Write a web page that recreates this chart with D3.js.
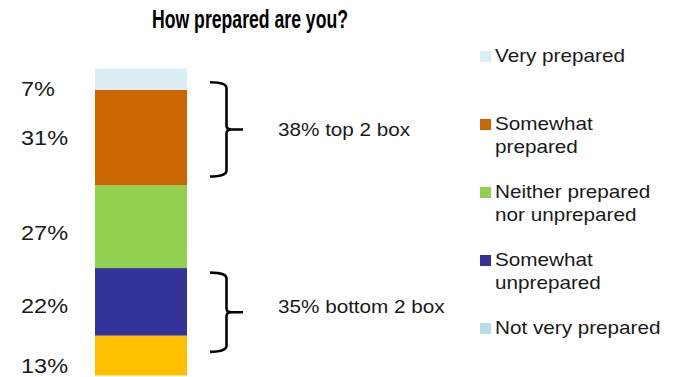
<!DOCTYPE html>
<html>
<head>
<meta charset="utf-8">
<script src="https://cdn.jsdelivr.net/npm/d3@7"></script>
<style>
  html, body { margin: 0; padding: 0; background: #fff; }
  svg { display: block; }
  text { font-family: Arial, "Liberation Sans", sans-serif; fill: #1a1a1a; }
</style>
</head>
<body>
<svg id="chart" width="673" height="377"></svg>
<script>
// Survey responses, stacked from the bottom up
const categories = ["Not very prepared", "Somewhat unprepared", "Neither prepared nor unprepared", "Somewhat prepared", "Very prepared"];
const values = [13, 22, 27, 31, 7];
const barColors = ["#FFC000", "#333399", "#92D050", "#CC6600", "#DAEEF3"];

// Legend, listed top to bottom
const legendLines = [["Very prepared"], ["Somewhat", "prepared"], ["Neither prepared", "nor unprepared"], ["Somewhat", "unprepared"], ["Not very prepared"]];
const legendSwatches = ["#DAEEF3", "#CC6600", "#92D050", "#333399", "#B7DEE8"];

// Bracketed groups (value span in percent)
const groupNotes = ["38% top 2 box", "35% bottom 2 box"];
const groupLow = [64.8, 7.7];
const groupHigh = [95.5, 33.5];

const title = "How prepared are you?";

const svg = d3.select("#chart");

const y = d3.scaleLinear().domain([0, 100]).range([375.5, 68.5]);
const x = d3.scaleBand().domain(["all"]).range([95, 187]).padding(0);

// Stack the segments
let acc = 0;
const segs = values.map((v, i) => {
  const s = { v, i, y0: acc, y1: acc + v };
  acc += v;
  return s;
});

svg.append("g").selectAll("rect").data(segs).join("rect")
  .attr("x", x("all"))
  .attr("width", x.bandwidth())
  .attr("y", d => y(d.y1))
  .attr("height", d => y(d.y0) - y(d.y1))
  .attr("fill", d => barColors[d.i]);

// Title
svg.append("text")
  .attr("x", 250).attr("y", 28)
  .attr("text-anchor", "middle")
  .attr("textLength", 196)
  .attr("lengthAdjust", "spacingAndGlyphs")
  .style("font-family", "'Liberation Sans Narrow', 'Arial Narrow', Arial, sans-serif")
  .style("font-weight", "bold")
  .style("font-size", "25px")
  .style("fill", "#000")
  .text(title);

// Value labels down the left side (nudged apart from the segment centres)
const labelNudge = [9.5, 3.2, 5.4, 0, 9.7];
svg.append("g").selectAll("g").data(segs).join("g")
  .attr("transform", d => `translate(21,${(y(d.y0) + y(d.y1)) / 2 + labelNudge[d.i] + 7.5}) scale(1.12,1)`)
  .append("text")
  .style("font-size", "21px")
  .text(d => d.v + "%");

// Legend
const legendTop = 62, legendStep = 68, lineStep = 23;
const leg = svg.append("g").selectAll("g").data(legendLines).join("g")
  .attr("transform", (d, i) => `translate(0,${legendTop + i * legendStep})`);
leg.append("rect")
  .attr("x", 480).attr("y", -11)
  .attr("width", 11).attr("height", 11)
  .attr("fill", (d, i) => legendSwatches[i]);
leg.each(function (lines) {
  const g = d3.select(this);
  lines.forEach((ln, k) => {
    g.append("g")
      .attr("transform", `translate(495,${k * lineStep}) scale(1.15,1)`)
      .append("text")
      .style("font-size", "18px")
      .text(ln);
  });
});

// Curly brackets with group notes
function bracePath(top, bottom, left, spine, tip) {
  const mid = (top + bottom) / 2;
  return `M${left},${top} Q${spine},${top} ${spine},${top + 6}` +
         ` L${spine},${mid - 4} Q${spine},${mid} ${spine + 5},${mid}` +
         ` L${tip},${mid}` +
         ` M${spine + 5},${mid} Q${spine},${mid} ${spine},${mid + 4}` +
         ` L${spine},${bottom - 6} Q${spine},${bottom} ${left},${bottom}`;
}
const noteNudge = [7, 0.5];
groupNotes.forEach((note, i) => {
  const top = y(groupHigh[i]), bottom = y(groupLow[i]);
  svg.append("path")
    .attr("d", bracePath(top, bottom, 210, 226.5, 243))
    .attr("fill", "none")
    .attr("stroke", "#000")
    .attr("stroke-width", 2.6)
    .attr("stroke-linejoin", "round");
  svg.append("g")
    .attr("transform", `translate(278,${(top + bottom) / 2 + noteNudge[i]}) scale(1.15,1)`)
    .append("text")
    .style("font-size", "18px")
    .text(note);
});
</script>
</body>
</html>
